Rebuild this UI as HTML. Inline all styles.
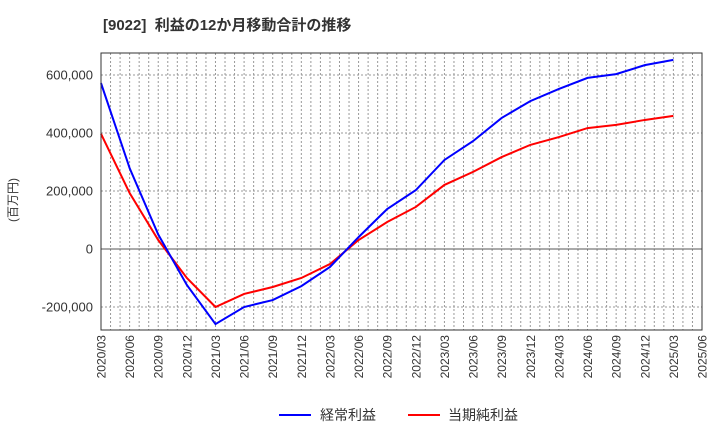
<!DOCTYPE html>
<html><head><meta charset="utf-8">
<style>
body{margin:0;background:#fff;font-family:"Liberation Sans","Noto Sans CJK JP",sans-serif;}
</style></head>
<body>
<svg id="chart" width="720" height="440" xmlns="http://www.w3.org/2000/svg" font-family="Liberation Sans, Noto Sans CJK JP, sans-serif">
<text x="103" y="30" font-size="15" font-weight="bold" fill="#333">[9022]&#160;&#160;利益の12か月移動合計の推移</text>
<text transform="translate(17,200) rotate(-90)" font-size="12" fill="#333" text-anchor="middle">(百万円)</text>
<g id="grid"></g><g id="series"></g><g id="axes"></g>
<g>
<line x1="279" y1="415" x2="311" y2="415" stroke="#0000ff" stroke-width="2"/>
<text x="320" y="420" font-size="14" fill="#333">経常利益</text>
<line x1="408" y1="415" x2="440" y2="415" stroke="#ff0000" stroke-width="2"/>
<text x="448" y="420" font-size="14" fill="#333">当期純利益</text>
</g>
</svg>
<script>
const categories=["2020/03","2020/06","2020/09","2020/12","2021/03","2021/06","2021/09","2021/12","2022/03","2022/06","2022/09","2022/12","2023/03","2023/06","2023/09","2023/12","2024/03","2024/06","2024/09","2024/12","2025/03","2025/06"];
const ordinaryProfit=[572000,279000,50000,-124000,-259000,-200000,-176000,-128000,-62000,41000,138000,203000,307000,372000,452000,510000,552000,590000,603000,634000,652000];
const netProfit=[397000,193000,31000,-100000,-200000,-155000,-131000,-100000,-52000,31000,93000,145000,221000,266000,317000,359000,386000,417000,428000,445000,459000];
const yTicks=[-200000,0,200000,400000,600000];
const yTickLabels=["-200,000","0","200,000","400,000","600,000"];
const L=101,R=702,T=53,B=330;
const NS="http://www.w3.org/2000/svg";
function xs(i){return L+(R-L)*i/(categories.length-1);}
function ys(v){return 249-v*58/200000;}
function mk(tag,attrs,parent){const e=document.createElementNS(NS,tag);for(const k in attrs)e.setAttribute(k,attrs[k]);parent.appendChild(e);return e;}
const grid=document.getElementById('grid'),axes=document.getElementById('axes'),ser=document.getElementById('series');
const months=(categories.length-1)*3;
for(let m=1;m<months;m++){const x=L+(R-L)*m/months;const l=mk('line',{x1:x,y1:T,x2:x,y2:B,stroke:'#999','stroke-dasharray':'2,2','stroke-width':1},grid);

}
yTicks.forEach((v,i)=>{const y=ys(v);
const l=mk('line',{x1:L,y1:y,x2:R,y2:y,stroke:v===0?'#555':'#999','stroke-dasharray':v===0?'':'2,2','stroke-width':1},grid);


const t=mk('text',{x:L-8,y:y+4.5,'font-size':13,fill:'#333','text-anchor':'end'},axes);t.textContent=yTickLabels[i];

});
categories.forEach((c,i)=>{const x=xs(i);
const t=mk('text',{transform:`translate(${x+4.5},${B+5}) rotate(-90)`,'font-size':12,fill:'#333','text-anchor':'end'},axes);t.textContent=c;

});
const frame=mk('rect',{x:L,y:T,width:R-L,height:B-T,fill:'none',stroke:'#333','stroke-width':1},axes);


function line(data,color,name){const p=mk('polyline',{points:data.map((v,i)=>xs(i)+','+ys(v)).join(' '),fill:'none',stroke:color,'stroke-width':2},ser);

}
line(netProfit,'#ff0000','net-profit-line');
line(ordinaryProfit,'#0000ff','ordinary-profit-line');
</script>
</body></html>
